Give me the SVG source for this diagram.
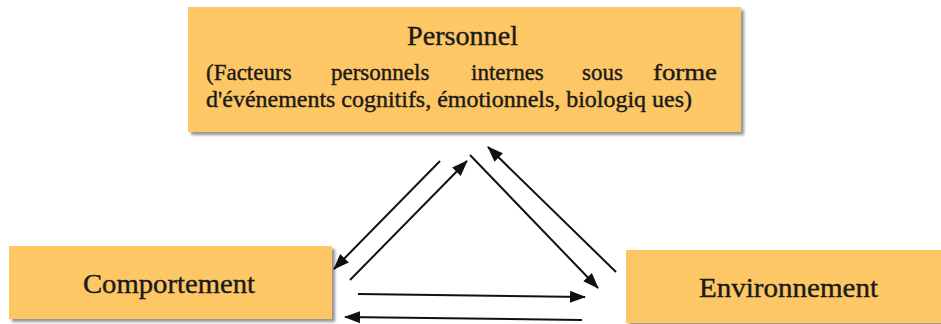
<svg xmlns="http://www.w3.org/2000/svg" width="941" height="324" viewBox="0 0 941 324">
  <defs>
    <filter id="shadow" x="-5%" y="-10%" width="115%" height="130%">
      <feDropShadow dx="3" dy="3" stdDeviation="1.6" flood-color="#6e6e6e" flood-opacity="0.75"/>
    </filter>
    <marker id="head" markerUnits="userSpaceOnUse" markerWidth="16" markerHeight="12" refX="15" refY="6" orient="auto">
      <path d="M0,0 L16,6 L0,12 Z" fill="#111"/>
    </marker>
    <style>
      .box { fill: #FEC765; filter: url(#shadow); }
      .txt { font-family: "Liberation Serif", "Times New Roman", serif; fill: #1a1a1a; stroke: #1a1a1a; stroke-width: 0.4; }
      .title { font-size: 28px; }
      .body { font-size: 23px; }
      .conn line { stroke: #111; stroke-width: 2; marker-end: url(#head); }
    </style>
  </defs>
  <rect width="941" height="324" fill="#ffffff"/>

  <g id="personnel">
    <rect class="box" x="188" y="7" width="553" height="125"/>
    <text class="txt title" x="407" y="45" textLength="111" lengthAdjust="spacingAndGlyphs">Personnel</text>
    <text class="txt body" y="80">
      <tspan x="206">(Facteurs</tspan>
      <tspan x="331">personnels</tspan>
      <tspan x="471">internes</tspan>
      <tspan x="582">sous</tspan>
      <tspan x="653" textLength="64" lengthAdjust="spacingAndGlyphs">forme</tspan>
    </text>
    <text class="txt body" x="206" y="107" textLength="486" lengthAdjust="spacingAndGlyphs">d'événements cognitifs, émotionnels, biologiq ues)</text>
  </g>

  <g id="comportement">
    <rect class="box" x="9" y="246" width="323" height="73"/>
    <text class="txt title" x="83" y="293" textLength="172" lengthAdjust="spacingAndGlyphs">Comportement</text>
  </g>

  <g id="environnement">
    <rect class="box" x="626" y="250" width="330" height="73"/>
    <text class="txt title" x="699" y="297" textLength="179" lengthAdjust="spacingAndGlyphs">Environnement</text>
  </g>

  <g id="connectors" class="conn">
    <line x1="440" y1="161" x2="334" y2="269"/>
    <line x1="350" y1="280" x2="467" y2="161"/>
    <line x1="470" y1="155" x2="598" y2="288"/>
    <line x1="616" y1="272" x2="488" y2="147"/>
    <line x1="358" y1="294" x2="585" y2="297"/>
    <line x1="582" y1="320" x2="345" y2="317"/>
  </g>
</svg>
